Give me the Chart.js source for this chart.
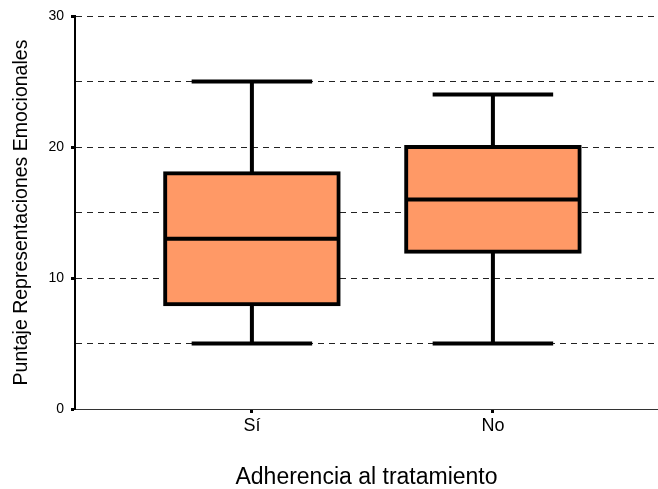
<!DOCTYPE html>
<html>
<head>
<meta charset="utf-8">
<script src="https://cdn.jsdelivr.net/npm/chart.js@4"></script>
<style>
  html, body { margin: 0; padding: 0; background: #fff; }
  #wrap { width: 658px; height: 489px; }
</style>
</head>
<body>
<div id="wrap"><canvas id="box"></canvas></div>
<script>
const categories = ['Sí', 'No'];
const mins = [5, 5];
const q1s = [8, 12];
const medians = [13, 16];
const q3s = [18, 20];
const maxs = [25, 24];
const yTicks = [0, 10, 20, 30];

document.addEventListener("DOMContentLoaded", () => {
    const ctx = document.getElementById('box').getContext('2d');

    // whiskers, caps and medians, drawn through the chart scales
    const whiskerPlugin = {
        id: 'whiskers',
        afterDatasetsDraw(chart) {
            const x = chart.scales.x, y = chart.scales.y;
            const c = chart.ctx;
            const capHalf = 0.25;
            const boxHalf = 0.36;
            c.save();
            c.strokeStyle = '#000';
            c.lineWidth = 4;
            c.lineCap = 'butt';
            categories.forEach((cat, i) => {
                const cx = x.getPixelForValue(i + 1);
                c.beginPath();
                c.moveTo(cx, y.getPixelForValue(q3s[i]));
                c.lineTo(cx, y.getPixelForValue(maxs[i]));
                c.moveTo(cx, y.getPixelForValue(q1s[i]));
                c.lineTo(cx, y.getPixelForValue(mins[i]));
                c.moveTo(x.getPixelForValue(i + 1 - capHalf), y.getPixelForValue(maxs[i]));
                c.lineTo(x.getPixelForValue(i + 1 + capHalf), y.getPixelForValue(maxs[i]));
                c.moveTo(x.getPixelForValue(i + 1 - capHalf), y.getPixelForValue(mins[i]));
                c.lineTo(x.getPixelForValue(i + 1 + capHalf), y.getPixelForValue(mins[i]));
                c.moveTo(x.getPixelForValue(i + 1 - boxHalf), y.getPixelForValue(medians[i]));
                c.lineTo(x.getPixelForValue(i + 1 + boxHalf), y.getPixelForValue(medians[i]));
                c.stroke();
            });
            c.restore();
        }
    };

    new Chart(ctx, {
        type: 'bar',
        data: {
            datasets: [{
                data: categories.map((c, i) => ({x: i + 1, y: [q1s[i], q3s[i]]})),
                backgroundColor: '#FF9966',
                borderColor: '#000',
                borderWidth: 4,
                borderSkipped: false,
                inflateAmount: 2,
                categoryPercentage: 1,
                barPercentage: 0.72
            }]
        },
        options: {
            responsive: true,
            maintainAspectRatio: false,
            animation: false,
            layout: { padding: { top: 16, right: 0, left: 0, bottom: 0 } },
            plugins: {
                legend: { display: false },
                tooltip: { enabled: false }
            },
            scales: {
                x: {
                    type: 'linear',
                    offset: false,
                    min: 0.266,
                    max: 2.685,
                    afterBuildTicks: (axis) => { axis.ticks = categories.map((c, i) => ({value: i + 1})); },
                    afterFit: (axis) => { axis.height = 80; },
                    ticks: {
                        callback: (v) => categories[v - 1],
                        color: '#000',
                        font: { family: 'Liberation Sans', size: 18 },
                        padding: 2
                    },
                    grid: { offset: false, drawOnChartArea: false, tickLength: 4, tickColor: '#000', tickWidth: 3 },
                    border: { display: true, color: '#333', width: 1 },
                    title: {
                        display: true,
                        text: 'Adherencia al tratamiento',
                        color: '#000',
                        font: { family: 'Liberation Sans', size: 23, lineHeight: 1 },
                        padding: { top: 0, bottom: 0 }
                    }
                },
                y: {
                    min: 0,
                    max: 30,
                    afterBuildTicks: (axis) => {
                        const t = [];
                        for (let v = 0; v <= 30; v += 5) t.push({value: v});
                        axis.ticks = t;
                    },
                    afterFit: (axis) => { axis.width = 75; },
                    ticks: {
                        callback: (v) => yTicks.includes(v) ? String(v) : '',
                        color: '#000',
                        font: { family: 'Liberation Sans', size: 14 },
                        padding: 7
                    },
                    grid: {
                        color: (c) => c.tick && c.tick.value === 0 ? 'rgba(0,0,0,0)' : '#222',
                        lineWidth: 1,
                        tickLength: 4,
                        tickWidth: 3,
                        tickColor: (c) => c.tick && yTicks.includes(c.tick.value) ? '#000' : 'rgba(0,0,0,0)'
                    },
                    border: { display: true, color: '#000', width: 2, dash: [6, 5] },
                    title: {
                        display: true,
                        text: 'Puntaje Representaciones Emocionales',
                        color: '#000',
                        font: { family: 'Liberation Sans', size: 19.5 },
                        padding: { top: 10, bottom: 0 }
                    }
                }
            }
        },
        plugins: [whiskerPlugin]
    });
});
</script>
</body>
</html>
